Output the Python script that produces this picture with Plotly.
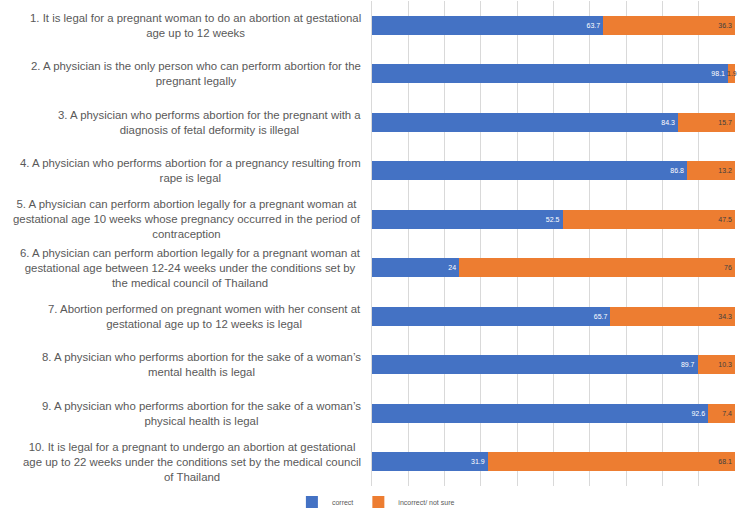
import plotly.graph_objects as go

questions = [
    "1. It is legal for a pregnant woman to do an abortion at gestational<br>age up to 12 weeks",
    "2. A physician is the only person who can perform abortion for the<br>pregnant legally",
    "3. A physician who performs abortion for the pregnant with a<br>diagnosis of fetal deformity is illegal",
    "4. A physician who performs abortion for a pregnancy resulting from<br>rape is legal",
    "5. A physician can perform abortion legally for a pregnant woman at<br>gestational age 10 weeks whose pregnancy occurred in the period of<br>contraception",
    "6. A physician can perform abortion legally for a pregnant woman at<br>gestational age between 12-24 weeks under the conditions set by<br>the medical council of Thailand",
    "7. Abortion performed on pregnant women with her consent at<br>gestational age up to 12 weeks is legal",
    "8. A physician who performs abortion for the sake of a woman\u2019s<br>mental health is legal",
    "9. A physician who performs abortion for the sake of a woman\u2019s<br>physical health is legal",
    "10. It is legal for a pregnant to undergo an abortion at gestational<br>age up to 22 weeks under the conditions set by the medical council<br>of Thailand",
]
correct = [63.7, 98.1, 84.3, 86.8, 52.5, 24, 65.7, 89.7, 92.6, 31.9]
incorrect = [36.3, 1.9, 15.7, 13.2, 47.5, 76, 34.3, 10.3, 7.4, 68.1]
series_names = ["correct", "incorrect/ not sure"]

keys = [f"Q{i + 1}" for i in range(len(questions))]

correct_text = [f"{c:g}" for c in correct]
# very narrow segments get their label as an annotation centred on the segment
incorrect_text = [f"{v:g}" if v >= 3 else "" for v in incorrect]

fig = go.Figure()
fig.add_trace(go.Bar(
    y=keys, x=correct, orientation="h", name=series_names[0],
    marker=dict(color="#4472C4", line=dict(width=0)),
    text=correct_text, textposition="inside", insidetextanchor="end",
    textfont=dict(size=7, color="white", family="Liberation Sans"),
    constraintext="none", cliponaxis=False, textangle=0,
))
fig.add_trace(go.Bar(
    y=keys, x=incorrect, orientation="h", name=series_names[1],
    marker=dict(color="#ED7D31", line=dict(width=0)),
    text=incorrect_text, textposition="inside", insidetextanchor="end",
    textfont=dict(size=7, color="#404040", family="Liberation Sans"),
    constraintext="none", cliponaxis=False, textangle=0,
))

for k, c, w in zip(keys, correct, incorrect):
    if w < 3:
        fig.add_annotation(
            x=c + w / 2, xref="x", y=k, yref="y", text=f"{w:g}", showarrow=False,
            xanchor="center", yanchor="middle",
            font=dict(size=7, color="#404040", family="Liberation Sans"),
        )

for k, q in zip(keys, questions):
    fig.add_annotation(
        x=-0.025, xref="paper", y=k, yref="y", text=q, showarrow=False,
        xanchor="right", yanchor="middle", align="center",
        font=dict(size=11.4, color="#595959", family="Liberation Sans Narrow, Liberation Sans"),
    )

fig.update_layout(
    width=739, height=509,
    margin=dict(l=372, r=4, t=1, b=23, autoexpand=False),
    barmode="stack", bargap=0.6,
    plot_bgcolor="white", paper_bgcolor="white",
    showlegend=True,
    legend=dict(orientation="h", xref="container", yref="paper",
                x=0.395, xanchor="left", y=-0.033, yanchor="middle",
                font=dict(size=7, color="#595959", family="Liberation Sans"),
                itemwidth=30, traceorder="normal", tracegroupgap=0,
                bgcolor="rgba(0,0,0,0)"),
    font=dict(family="Liberation Sans"),
)
fig.update_xaxes(range=[0, 100], dtick=10, showgrid=True, gridcolor="#D9D9D9",
                 showticklabels=False, zeroline=False, ticks="")
fig.update_yaxes(type="category", categoryorder="array", categoryarray=keys,
                 autorange="reversed", showticklabels=False, showgrid=False,
                 showline=True, linecolor="#D9D9D9", ticks="")

fig.write_html("out.html", config={"displayModeBar": False},
               post_script="document.body.style.margin='0px';")
